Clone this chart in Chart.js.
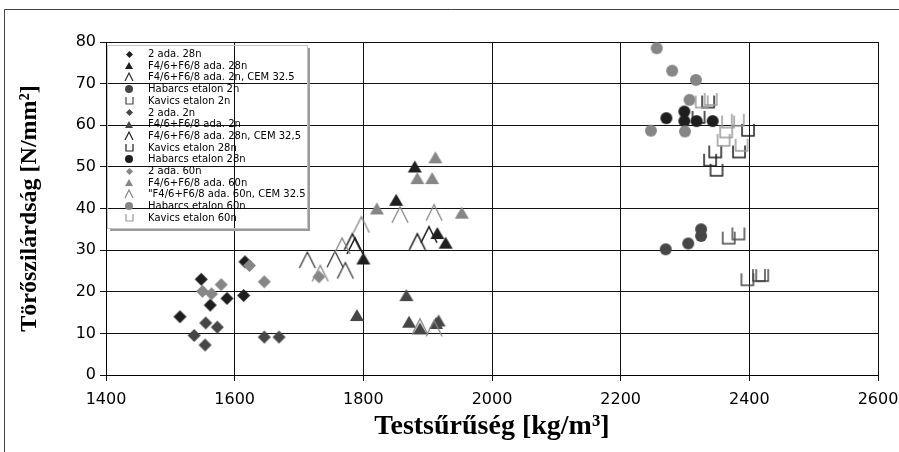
<!DOCTYPE html>
<html>
<head>
<meta charset="utf-8">
<script src="https://cdn.jsdelivr.net/npm/chart.js@4.4.1/dist/chart.umd.min.js"></script>
<style>
  html, body { margin: 0; padding: 0; background: #ffffff; }
  #wrap { width: 899px; height: 452px; }
</style>
</head>
<body>
<div id="wrap"><canvas id="chart" width="899" height="452"></canvas></div>
<script>
// axis ticks
const xTicks = [1400, 1600, 1800, 2000, 2200, 2400, 2600];
const yTicks = [0, 10, 20, 30, 40, 50, 60, 70, 80];

// [testsűrűség, törőszilárdság]
const ada2_28n = [[1515, 14.0], [1548, 23.0], [1562, 16.8], [1588, 18.4], [1614, 19.1], [1616, 27.2]];
const f468_28n = [[1800, 28.0], [1851, 42.1], [1880, 50.1], [1915, 34.1], [1928, 31.8]];
const f468_2n_cem = [[1713, 27.6], [1756, 27.8], [1772, 25.1]];
const habarcs_2n = [[2270, 30.2], [2305, 31.6], [2325, 33.4], [2325, 35.0]];
const kavics_2n = [[2368, 33.0], [2383, 34.0], [2397, 23.0], [2415, 24.0], [2420, 24.0]];
const ada2_2n = [[1537, 9.5], [1554, 7.2], [1555, 12.5], [1573, 11.5], [1646, 9.1], [1669, 9.1]];
const f468_2n = [[1790, 14.4], [1867, 19.2], [1871, 12.8], [1888, 11.2], [1913, 12.5], [1917, 13.1]];
const f468_28n_cem = [[1783, 32.0], [1787, 31.0], [1884, 32.0], [1902, 33.7]];
const kavics_28n = [[2321, 62.0], [2336, 65.7], [2339, 51.7], [2347, 53.7], [2349, 49.3], [2384, 53.7], [2398, 58.9]];
const habarcs_28n = [[2271, 61.7], [2299, 63.3], [2299, 61.0], [2318, 61.0], [2343, 61.0]];
const ada2_60n = [[1550, 20.1], [1564, 19.5], [1579, 21.7], [1623, 26.3], [1646, 22.4], [1731, 23.6]];
const f468_60n = [[1821, 40.0], [1884, 47.3], [1907, 47.3], [1912, 52.3], [1953, 39.0]];
const f468_60n_cem = [[1733, 24.4], [1767, 31.0], [1797, 36.1], [1857, 38.5], [1910, 39.0], [1888, 11.6], [1910, 11.2]];
const habarcs_60n = [[2247, 58.7], [2256, 78.5], [2280, 73.1], [2300, 58.5], [2307, 66.1], [2317, 70.9]];
const kavics_60n = [[2326, 65.7], [2340, 66.3], [2360, 56.5], [2364, 58.5], [2367, 60.9], [2382, 61.3], [2388, 55.3]];

const seriesLabels = [
  '2 ada. 28n',
  'F4/6+F6/8 ada. 28n',
  'F4/6+F6/8 ada. 2n, CEM 32.5',
  'Habarcs etalon 2n',
  'Kavics etalon 2n',
  '2 ada. 2n',
  'F4/6+F6/8 ada. 2n',
  'F4/6+F6/8 ada. 28n, CEM 32,5',
  'Kavics etalon 28n',
  'Habarcs etalon 28n',
  '2 ada. 60n',
  'F4/6+F6/8 ada. 60n',
  '"F4/6+F6/8 ada. 60n, CEM 32.5',
  'Habarcs etalon 60n',
  'Kavics etalon 60n'
];
const seriesData = [
  ada2_28n, f468_28n, f468_2n_cem, habarcs_2n, kavics_2n,
  ada2_2n, f468_2n, f468_28n_cem, kavics_28n, habarcs_28n,
  ada2_60n, f468_60n, f468_60n_cem, habarcs_60n, kavics_60n
];

const BLACK = '#1e1e1e';
const DARK = '#464646';
const GRAY = '#868686';
const LIGHT = '#9a9a9a';

// [shape, colour, line width]
const seriesStyles = [
  ['diamond', BLACK], ['triangle', BLACK], ['caret', '#2a2a2a', 1.2], ['circle', DARK], ['cup', DARK, 1.5],
  ['diamond', DARK], ['triangle', DARK], ['caret', BLACK, 1.6], ['cup', BLACK, 1.5], ['circle', BLACK],
  ['diamond', GRAY], ['triangle', GRAY], ['caret', GRAY, 1.3], ['circle', GRAY], ['cup', LIGHT, 1.5]
];

const plotSizes = { diamond: 13, triangle: 14, circle: 12, caret: 16, cup: 12 };
const legendSizes = { diamond: 7, triangle: 8, circle: 8, caret: 8, cup: 7 };

function makeMarker(kind, color, s, lw) {
  const c = document.createElement('canvas');
  const pad = 2;
  const w = s;
  const h = kind === 'triangle' ? Math.round(s * 0.85) : s;
  c.width = w + pad * 2;
  c.height = h + pad * 2;
  const ctx = c.getContext('2d');
  ctx.translate(pad, pad);
  ctx.fillStyle = color;
  ctx.strokeStyle = color;
  ctx.lineWidth = lw || 1;
  ctx.beginPath();
  if (kind === 'diamond') {
    ctx.moveTo(w / 2, 0); ctx.lineTo(w, h / 2); ctx.lineTo(w / 2, h); ctx.lineTo(0, h / 2);
    ctx.closePath(); ctx.fill();
  } else if (kind === 'triangle') {
    ctx.moveTo(w / 2, 0); ctx.lineTo(w, h); ctx.lineTo(0, h);
    ctx.closePath(); ctx.fill();
  } else if (kind === 'circle') {
    ctx.arc(w / 2, h / 2, w / 2, 0, Math.PI * 2); ctx.fill();
  } else if (kind === 'caret') {
    ctx.moveTo(0, h); ctx.lineTo(w / 2, 0); ctx.lineTo(w, h); ctx.stroke();
  } else if (kind === 'cup') {
    ctx.moveTo(0, 0); ctx.lineTo(0, h); ctx.lineTo(w, h); ctx.lineTo(w, 0); ctx.stroke();
  }
  return c;
}

const datasets = seriesLabels.map((label, i) => {
  const [kind, color, lw] = seriesStyles[i];
  return {
    label,
    data: seriesData[i].map(([x, y]) => ({ x, y })),
    pointStyle: makeMarker(kind, color, plotSizes[kind], lw),
    legendMarker: makeMarker(kind, color, legendSizes[kind], lw ? Math.min(lw, 1.2) : 1),
    pointRadius: 6,
    showLine: false,
    order: seriesLabels.length - i
  };
});

const framePlugin = {
  id: 'frame',
  beforeDraw(chart) {
    const ctx = chart.ctx;
    ctx.save();
    ctx.fillStyle = '#ffffff';
    ctx.fillRect(0, 0, chart.width, chart.height);
    ctx.strokeStyle = '#444444';
    ctx.lineWidth = 1;
    ctx.beginPath();
    ctx.moveTo(4.5, chart.height);
    ctx.lineTo(4.5, 9.5);
    ctx.lineTo(chart.width, 9.5);
    ctx.stroke();
    ctx.restore();
  }
};

const legendPlugin = {
  id: 'boxLegend',
  afterDraw(chart) {
    const ctx = chart.ctx;
    const left = 107, top = 45, width = 200, height = 183;
    ctx.save();
    ctx.strokeStyle = '#c4c4c4';
    ctx.lineWidth = 1;
    ctx.strokeRect(left + 0.5, top + 0.5, width, height);
    ctx.fillStyle = '#9a9a9a';
    ctx.fillRect(left + width + 1, top + 3, 2, height);
    ctx.fillRect(left + 3, top + height + 1, width, 2);
    ctx.font = '10px "DejaVu Sans", Verdana, sans-serif';
    ctx.fillStyle = '#000000';
    ctx.textBaseline = 'middle';
    chart.data.datasets.forEach((ds, i) => {
      const y = 54 + i * 11.7;
      const m = ds.legendMarker;
      ctx.drawImage(m, Math.round(129 - m.width / 2), Math.round(y - m.height / 2));
      ctx.fillText(ds.label, 148, y + 0.5);
    });
    ctx.restore();
  }
};

const tickFont = { family: '"DejaVu Sans", Verdana, sans-serif', size: 16 };
const serif = '"Liberation Serif", "Times New Roman", serif';

new Chart(document.getElementById('chart').getContext('2d'), {
  type: 'scatter',
  data: { datasets },
  options: {
    responsive: false,
    animation: false,
    events: [],
    layout: { padding: { left: 0, right: 0, top: 42, bottom: 0 } },
    plugins: {
      legend: { display: false },
      tooltip: { enabled: false }
    },
    scales: {
      x: {
        type: 'linear',
        min: 1400,
        max: 2600,
        afterBuildTicks(scale) {
          scale.ticks = xTicks.map((value) => ({ value }));
        },
        afterFit(scale) {
          scale.height = 77;
          scale.paddingLeft = 0;
          scale.paddingRight = 21;
        },
        border: { color: '#000000', width: 1 },
        grid: { color: '#111111', lineWidth: 1, tickLength: 6 },
        ticks: {
          color: '#000000',
          font: tickFont,
          padding: 9,
          maxRotation: 0,
          callback(value) {
            return String(value);
          }
        },
        title: {
          display: true,
          text: 'Testsűrűség [kg/m³]',
          color: '#000000',
          font: { family: serif, size: 28, weight: 'bold' },
          padding: { top: 0, bottom: 8 }
        }
      },
      y: {
        type: 'linear',
        min: 0,
        max: 80,
        afterBuildTicks(scale) {
          scale.ticks = yTicks.map((value) => ({ value }));
        },
        afterFit(scale) {
          scale.width = 106;
        },
        border: { color: '#000000', width: 1 },
        grid: { color: '#111111', lineWidth: 1, tickLength: 6 },
        ticks: {
          color: '#000000',
          font: tickFont,
          padding: 4,
          callback(value) {
            return String(value);
          }
        },
        title: {
          display: true,
          text: 'Törőszilárdság [N/mm²]',
          color: '#000000',
          font: { family: serif, size: 24, weight: 'bold' },
          padding: { top: 15, bottom: 0 }
        }
      }
    }
  },
  plugins: [framePlugin, legendPlugin]
});
</script>
</body>
</html>
